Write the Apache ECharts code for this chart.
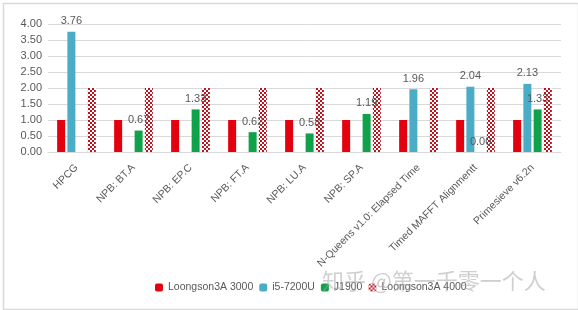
<!DOCTYPE html>
<html>
<head>
<meta charset="utf-8">
<script src="https://cdn.jsdelivr.net/npm/echarts@6/dist/echarts.min.js"></script>
<style>
  html, body { margin: 0; padding: 0; background: #fff; }
  #chart { width: 578px; height: 310px; }
</style>
</head>
<body>
<div id="chart"></div>
<script>
// benchmark names
var categories = ['HPCG', 'NPB: BT.A', 'NPB: EP.C', 'NPB: FT.A', 'NPB: LU.A', 'NPB: SP.A',
    'N-Queens v1.0: Elapsed Time', 'Timed MAFFT Alignmentt', 'Primesieve v6.2n'];
var seriesNames = ['Loongson3A 3000', 'i5-7200U', 'J1900', 'Loongson3A 4000'];

// relative scores (null = no bar)
var loongson3000 = [1, 1, 1, 1, 1, 1, 1, 1, 1];
var i5 = [3.76, null, null, null, null, null, 1.96, 2.04, 2.13];
var j1900 = [null, 0.67, 1.33, 0.62, 0.58, 1.19, null, 0.00, 1.33];
var loongson4000 = [2, 2, 2, 2, 2, 2, 2, 2, 2];

var yTicks = [0, 4, 0.5]; // min, max, interval

// checker pattern for the 4000 bars
function makeChecker() {
    var c = document.createElement('canvas');
    c.width = 4; c.height = 4;
    var ctx = c.getContext('2d');
    ctx.fillStyle = '#ffffff';
    ctx.fillRect(0, 0, 4, 4);
    ctx.fillStyle = '#c0121c';
    ctx.fillRect(0, 0, 2, 2);
    ctx.fillRect(2, 2, 2, 2);
    return c;
}

var FONT = 'Liberation Sans';
var GRAY = '#595959';

var labelOpt = {
    show: true,
    position: 'top',
    distance: 5,
    color: GRAY,
    fontSize: 11,
    fontFamily: FONT,
    formatter: function (p) { return p.value == null ? '' : p.value.toFixed(2); }
};

var myChart = echarts.init(document.getElementById('chart'));
var option = {
    animation: false,
    textStyle: { fontFamily: FONT },
    grid: { left: 48, right: 17, top: 24, height: 128 },
    legend: {
        top: 277,
        left: 150,
        itemWidth: 8,
        itemHeight: 8,
        itemGap: 6,
        textStyle: { color: GRAY, fontSize: 10.5, fontFamily: FONT },
        data: seriesNames
    },
    xAxis: {
        type: 'category',
        data: categories,
        axisTick: { show: false },
        axisLine: { lineStyle: { color: '#d9d9d9' } },
        axisLabel: { rotate: 45, interval: 0, color: GRAY, fontSize: 10.5, fontFamily: FONT, margin: 14 }
    },
    yAxis: {
        type: 'value',
        min: yTicks[0],
        max: yTicks[1],
        interval: yTicks[2],
        axisLine: { show: false },
        axisTick: { show: false },
        splitLine: { lineStyle: { color: '#d9d9d9' } },
        axisLabel: { color: GRAY, fontSize: 11, fontFamily: FONT, margin: 6,
            formatter: function (v) { return v.toFixed(2); } }
    },
    series: [
        { name: seriesNames[0], type: 'bar', data: loongson3000, barWidth: 8, barGap: '28%',
            itemStyle: { color: '#e3000f' } },
        { name: seriesNames[1], type: 'bar', data: i5, barWidth: 8,
            itemStyle: { color: '#4bacc6' }, label: labelOpt },
        { name: seriesNames[2], type: 'bar', data: j1900, barWidth: 8,
            itemStyle: { color: '#10a24a' }, label: labelOpt },
        { name: seriesNames[3], type: 'bar', data: loongson4000, barWidth: 8,
            itemStyle: { color: { image: makeChecker(), repeat: 'repeat' } } }
    ],
    graphic: [
        { type: 'rect', left: 1, top: 1, z: -1,
            shape: { width: 575, height: 306 },
            style: { fill: 'none', stroke: '#d9d9d9', lineWidth: 1.5 } },
        { type: 'text', left: 322, top: 270, z: 100,
            style: { text: '知乎 @第一千零一个人', fill: 'rgba(160,160,160,0.5)',
                font: '22px "Noto Sans CJK SC"' } }
    ]
};
myChart.setOption(option);
</script>
</body>
</html>
